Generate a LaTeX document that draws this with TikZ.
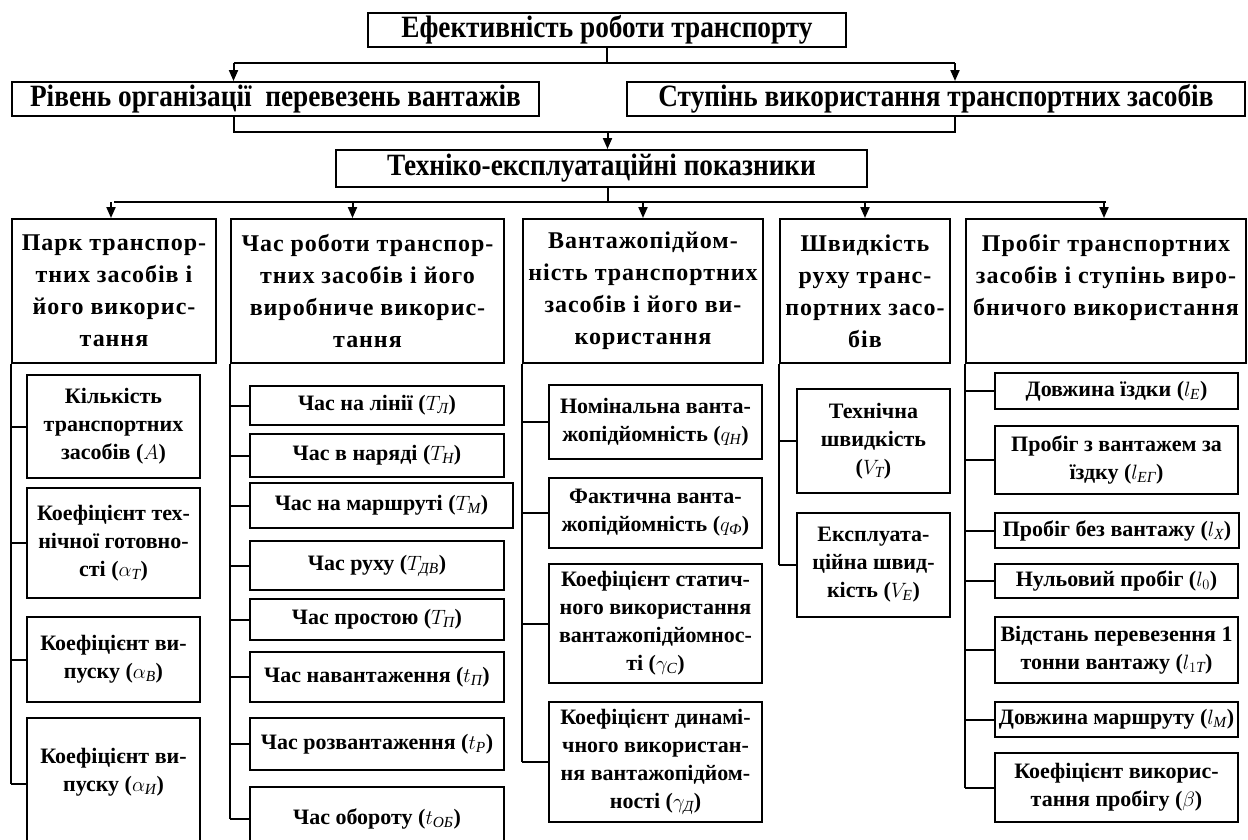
\documentclass[tikz,border=0pt]{standalone}
\usepackage{amsmath}
\usepackage{fontspec}
\setmainfont{Liberation Serif}
\newfontfamily\condfont{Liberation Serif}[FakeStretch=0.88]
\usetikzlibrary{arrows.meta}
\newcommand{\ix}[1]{\text{\normalfont\itshape #1}}
\tikzset{
  box/.style={draw, line width=2pt, align=center, inner sep=1pt},
  topbox/.style={box, font=\condfont\bfseries\fontsize{31}{34}\selectfont},
  headbox/.style={box, font=\bfseries\fontsize{24}{32}\selectfont\addfontfeature{LetterSpace=4}},
  subbox/.style={box, font=\bfseries\fontsize{22}{28}\selectfont},
  link/.style={line width=2pt},
}

\begin{document}
\begin{tikzpicture}[x=1pt, y=-1pt, >={Triangle[length=11pt,width=9pt]}]
\useasboundingbox[fill=white] (0,0) rectangle (1248,839);

\node[topbox, minimum width=478pt, minimum height=34pt] (top) at (607,30) {Ефективність роботи транспорту};
\node[topbox, minimum width=527pt, minimum height=34pt] (rv) at (275.5,99) {Рівень організації \ перевезень вантажів};
\node[topbox, minimum width=618pt, minimum height=34pt] (st) at (936,99) {Ступінь використання транспортних засобів};
\node[topbox, minimum width=531pt, minimum height=37pt] (tp) at (601.5,168.5) {Техніко-експлуатаційні показники};

\node[headbox, minimum width=204pt, minimum height=144pt] (c1) at (114,291) {Парк транспор-\\тних засобів і\\його викорис-\\тання};
\node[headbox, minimum width=273pt, minimum height=144pt] (c2) at (367.5,291) {Час роботи транспор-\\тних засобів і його\\виробниче викорис-\\тання};
\node[headbox, minimum width=240pt, minimum height=144pt] (c3) at (643,291) {Вантажопідйом-\\ність транспортних\\засобів і його ви-\\користання};
\node[headbox, minimum width=170pt, minimum height=144pt] (c4) at (865,291) {Швидкість\\руху транс-\\портних засо-\\бів};
\node[headbox, minimum width=280pt, minimum height=144pt] (c5) at (1106,291) {Пробіг транспортних\\засобів і ступінь виро-\\бничого використання\\ \mbox{}};

\node[subbox, minimum width=173pt, minimum height=103pt] (k1) at (113.5,426.5) {Кількість\\транспортних\\засобів ($A$)};
\node[subbox, minimum width=173pt, minimum height=110pt] (k2) at (113.5,543) {Коефіцієнт тех-\\нічної готовно-\\сті ($\alpha_{\ix{Т}}$)};
\node[subbox, minimum width=173pt, minimum height=85pt] (k3) at (113.5,659.5) {Коефіцієнт ви-\\пуску ($\alpha_{\ix{В}}$)};
\node[subbox, minimum width=173pt, minimum height=132pt] (k4) at (113.5,784) {Коефіцієнт ви-\\пуску ($\alpha_{\ix{И}}$)\\ \mbox{}};

\node[subbox, minimum width=254pt, minimum height=39pt] (t1) at (377,405.5) {Час на лінії ($T_{\ix{Л}}$)};
\node[subbox, minimum width=254pt, minimum height=43pt] (t2) at (377,455.5) {Час в наряді ($T_{\ix{Н}}$)};
\node[subbox, minimum width=263pt, minimum height=45pt] (t3) at (381.5,505.5) {Час на маршруті ($T_{\ix{М}}$)};
\node[subbox, minimum width=254pt, minimum height=49pt] (t4) at (377,565.5) {Час руху ($T_{\ix{ДВ}}$)};
\node[subbox, minimum width=254pt, minimum height=41pt] (t5) at (377,619.5) {Час простою ($T_{\ix{П}}$)};
\node[subbox, minimum width=254pt, minimum height=50pt] (t6) at (377,677) {Час навантаження ($t_{\ix{П}}$)};
\node[subbox, minimum width=254pt, minimum height=52pt] (t7) at (377,744) {Час розвантаження ($t_{\ix{Р}}$)};
\node[subbox, minimum width=254pt, minimum height=63pt] (t8) at (377,818.5) {Час обороту ($t_{\ix{ОБ}}$)};

\node[subbox, minimum width=213pt, minimum height=74pt] (v1) at (655.5,422) {Номінальна ванта-\\жопідйомність ($q_{\ix{Н}}$)};
\node[subbox, minimum width=213pt, minimum height=70pt] (v2) at (655.5,513) {Фактична ванта-\\жопідйомність ($q_{\ix{Ф}}$)};
\node[subbox, minimum width=213pt, minimum height=119pt] (v3) at (655.5,623.5) {Коефіцієнт статич-\\ного використання\\вантажопідйомнос-\\ті ($\gamma_{\ix{С}}$)};
\node[subbox, minimum width=213pt, minimum height=120pt] (v4) at (655.5,762) {Коефіцієнт динамі-\\чного використан-\\ня вантажопідйом-\\ності ($\gamma_{\ix{Д}}$)};

\node[subbox, minimum width=153pt, minimum height=104pt] (s1) at (873.5,441) {Технічна\\швидкість\\($V_{\ix{Т}}$)};
\node[subbox, minimum width=153pt, minimum height=104pt] (s2) at (873.5,565) {Експлуата-\\ційна швид-\\кість ($V_{\ix{Е}}$)};

\node[subbox, minimum width=243pt, minimum height=36pt] (p1) at (1116.5,391) {Довжина їздки ($l_{\ix{Е}}$)};
\node[subbox, minimum width=243pt, minimum height=68pt] (p2) at (1116.5,460) {Пробіг з вантажем за\\їздку ($l_{\ix{ЕГ}}$)};
\node[subbox, minimum width=244pt, minimum height=35pt] (p3) at (1117,530.5) {Пробіг без вантажу ($l_{\ix{Х}}$)};
\node[subbox, minimum width=243pt, minimum height=34pt] (p4) at (1116.5,581) {Нульовий пробіг ($l_0$)};
\node[subbox, minimum width=243pt, minimum height=66pt] (p5) at (1116.5,650) {Відстань перевезення 1\\тонни вантажу ($l_{1\ix{Т}}$)};
\node[subbox, minimum width=243pt, minimum height=35pt] (p6) at (1116.5,719.5) {Довжина маршруту ($l_{\ix{М}}$)};
\node[subbox, minimum width=243pt, minimum height=69pt] (p7) at (1116.5,787.5) {Коефіцієнт викорис-\\тання пробігу ($\beta$)};

\coordinate (b1) at (0,63);
\coordinate (b2) at (0,132);
\coordinate (b3) at (0,202);
\draw[link] (top.south) -- (top.south |- b1);
\draw[link] ([xshift=-42pt]rv.north |- b1) -- ([xshift=19pt]st.north |- b1);
\draw[link,->] ([xshift=-42pt]rv.north |- b1) -- ([xshift=-42pt]rv.north);
\draw[link,->] ([xshift=19pt]st.north |- b1) -- ([xshift=19pt]st.north);
\draw[link] ([xshift=-42pt]rv.south) -- ([xshift=-42pt]rv.south |- b2) -- ([xshift=19pt]st.south |- b2) -- ([xshift=19pt]st.south);
\draw[link,->] ([xshift=6pt]tp.north |- b2) -- ([xshift=6pt]tp.north);
\draw[link] ([xshift=6pt]tp.south) -- ([xshift=6pt]tp.south |- b3);
\draw[link] (c1.north |- b3) -- (c5.north |- b3);
\foreach \c/\s in {c1/-3,c2/-15,c3/0,c4/0,c5/-2}
  \draw[link,->] ([xshift=\s pt]\c.north |- b3) -- ([xshift=\s pt]\c.north);

\draw[link] (c1.south west) -- (c1.south west |- k4.west);
\foreach \n in {k1,k2,k3,k4}
  \draw[link] (c1.south west |- \n.west) -- (\n.west);
\draw[link] (c2.south west) -- (c2.south west |- t8.west);
\foreach \n in {t1,t2,t3,t4,t5,t6,t7,t8}
  \draw[link] (c2.south west |- \n.west) -- (\n.west);
\draw[link] (c3.south west) -- (c3.south west |- v4.west);
\foreach \n in {v1,v2,v3,v4}
  \draw[link] (c3.south west |- \n.west) -- (\n.west);
\draw[link] (c4.south west) -- (c4.south west |- s2.west);
\foreach \n in {s1,s2}
  \draw[link] (c4.south west |- \n.west) -- (\n.west);
\draw[link] (c5.south west) -- (c5.south west |- p7.west);
\foreach \n in {p1,p2,p3,p4,p5,p6,p7}
  \draw[link] (c5.south west |- \n.west) -- (\n.west);
\end{tikzpicture}
\end{document}
